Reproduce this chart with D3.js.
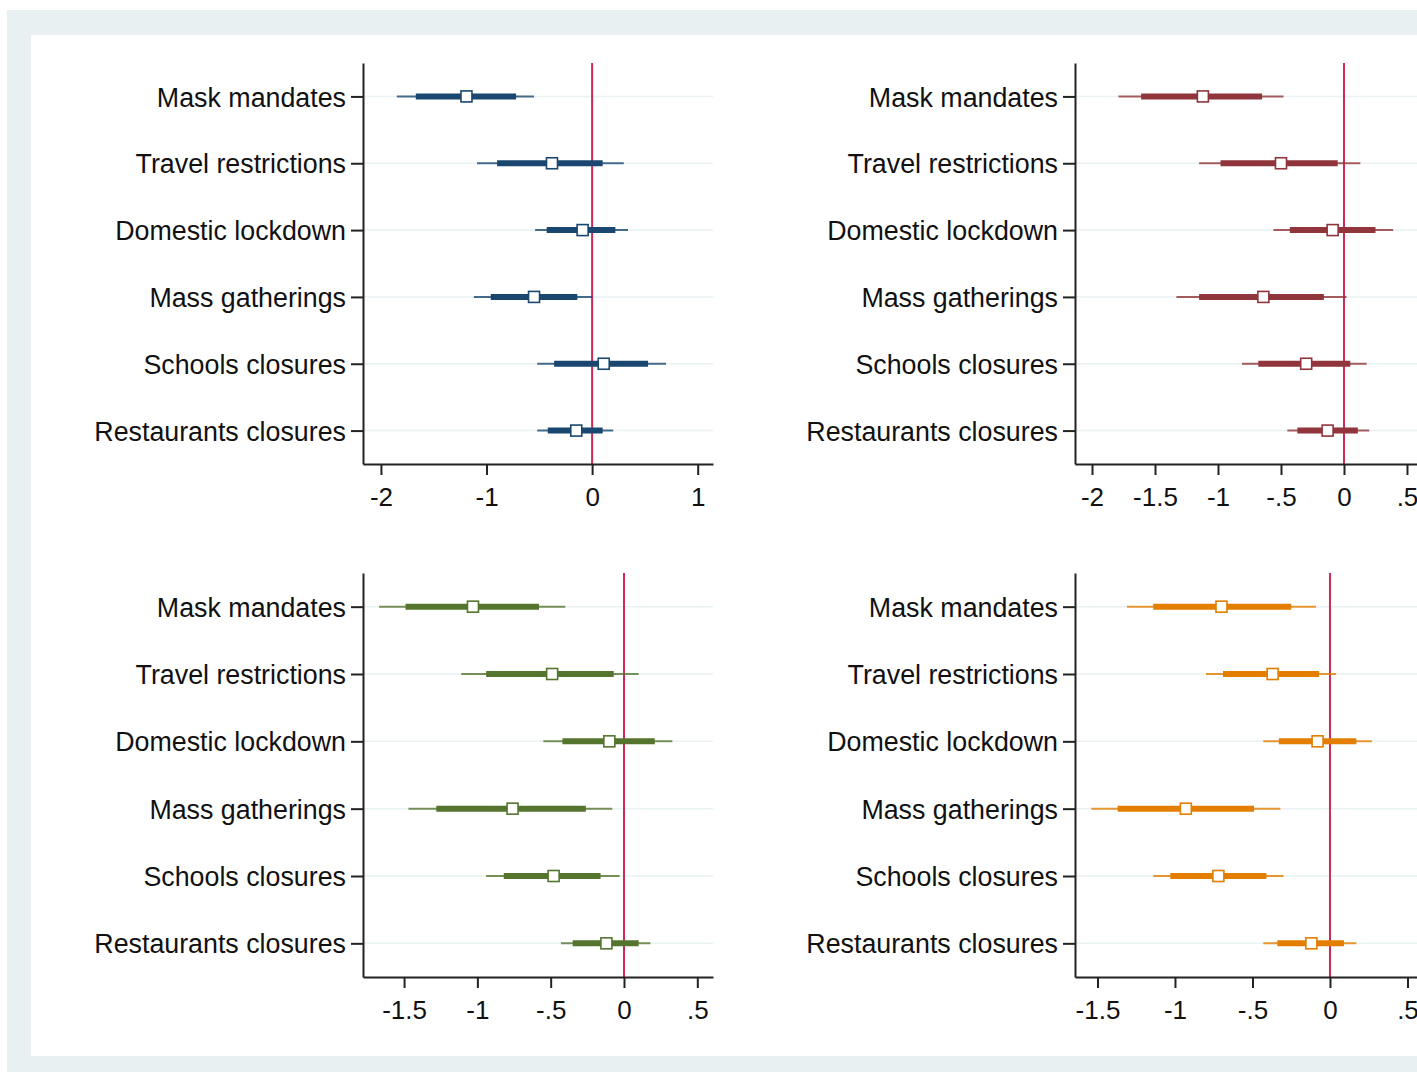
<!DOCTYPE html>
<html>
<head>
<meta charset="utf-8">
<script src="https://cdn.jsdelivr.net/npm/d3@7"></script>
<style>
  html, body { margin: 0; padding: 0; background: #fff; }
  svg text { font-family: "Liberation Sans", Arial, sans-serif; fill: #111; }
</style>
</head>
<body>
<svg id="chart" width="1417" height="1072"></svg>
<script>
// policy categories (top to bottom)
var categories = ["Mask mandates", "Travel restrictions", "Domestic lockdown",
  "Mass gatherings", "Schools closures", "Restaurants closures"];

// panel A (top left, navy)
var estA      = [-1.19, -0.38, -0.09, -0.55, 0.11, -0.15];
var thinLoA   = [-1.85, -1.09, -0.54, -1.12, -0.52, -0.52];
var thinHiA   = [-0.55, 0.30, 0.34, 0.00, 0.70, 0.20];
var thickLoA  = [-1.67, -0.90, -0.43, -0.96, -0.36, -0.42];
var thickHiA  = [-0.72, 0.10, 0.22, -0.14, 0.53, 0.10];
var ticksA    = [-2, -1, 0, 1];

// panel B (top right, maroon)
var estB      = [-1.12, -0.50, -0.09, -0.64, -0.30, -0.13];
var thinLoB   = [-1.79, -1.15, -0.56, -1.33, -0.81, -0.45];
var thinHiB   = [-0.48, 0.13, 0.39, 0.02, 0.18, 0.20];
var thickLoB  = [-1.61, -0.98, -0.43, -1.15, -0.68, -0.37];
var thickHiB  = [-0.65, -0.05, 0.25, -0.16, 0.05, 0.11];
var ticksB    = [-2, -1.5, -1, -0.5, 0, 0.5];

// panel C (bottom left, green)
var estC      = [-1.03, -0.49, -0.10, -0.76, -0.48, -0.12];
var thinLoC   = [-1.67, -1.11, -0.55, -1.47, -0.94, -0.43];
var thinHiC   = [-0.40, 0.10, 0.33, -0.08, -0.03, 0.18];
var thickLoC  = [-1.49, -0.94, -0.42, -1.28, -0.82, -0.35];
var thickHiC  = [-0.58, -0.07, 0.21, -0.26, -0.16, 0.10];
var ticksC    = [-1.5, -1, -0.5, 0, 0.5];

// panel D (bottom right, orange)
var estD      = [-0.70, -0.37, -0.08, -0.93, -0.72, -0.12];
var thinLoD   = [-1.31, -0.80, -0.43, -1.54, -1.14, -0.43];
var thinHiD   = [-0.09, 0.04, 0.27, -0.32, -0.30, 0.17];
var thickLoD  = [-1.14, -0.69, -0.33, -1.37, -1.03, -0.34];
var thickHiD  = [-0.25, -0.07, 0.17, -0.49, -0.41, 0.09];
var ticksD    = [-1.5, -1, -0.5, 0, 0.5];

var svg = d3.select("#chart");

// outer background + white plot region
svg.append("rect").attr("x", 7).attr("y", 10).attr("width", 1410).attr("height", 1062).attr("fill", "#e8f0f2");
svg.append("rect").attr("x", 31).attr("y", 35).attr("width", 1386).attr("height", 1021).attr("fill", "#fff");

var fmt = function (d) {
  if (d === 0) return "0";
  return String(d).replace("0.", ".");
};

var panels = [
  { est: estA, tlo: thinLoA, thi: thinHiA, klo: thickLoA, khi: thickHiA, ticks: ticksA,
    dom: [-2.17, 1.145], x0: 363, x1: 713, y0: 63, y1: 464, color: "#1a476f" },
  { est: estB, tlo: thinLoB, thi: thinHiB, klo: thickLoB, khi: thickHiB, ticks: ticksB,
    dom: [-2.135, 0.643], x0: 1075, x1: 1425, y0: 63, y1: 464, color: "#90353b" },
  { est: estC, tlo: thinLoC, thi: thinHiC, klo: thickLoC, khi: thickHiC, ticks: ticksC,
    dom: [-1.78, 0.607], x0: 363, x1: 713, y0: 573, y1: 977, color: "#55752f" },
  { est: estD, tlo: thinLoD, thi: thinHiD, klo: thickLoD, khi: thickHiD, ticks: ticksD,
    dom: [-1.645, 0.613], x0: 1075, x1: 1425, y0: 573, y1: 977, color: "#e37e00" }
];

panels.forEach(function (p) {
  var x = d3.scaleLinear().domain(p.dom).range([p.x0, p.x1]);
  var y = d3.scalePoint().domain(categories).range([p.y0, p.y1]).padding(0.5);
  var g = svg.append("g");

  // light horizontal grid
  g.selectAll(".grid")
    .data(categories)
    .enter().append("line")
    .attr("x1", p.x0).attr("x2", p.x1)
    .attr("y1", function (d) { return y(d); })
    .attr("y2", function (d) { return y(d); })
    .attr("stroke", "#eaf2f3")
    .attr("stroke-width", 1.5);

  // reference line at zero
  g.append("line")
    .attr("x1", x(0)).attr("x2", x(0))
    .attr("y1", p.y0).attr("y2", p.y1)
    .attr("stroke", "#cf2a55")
    .attr("stroke-width", 2);

  var rows = categories.map(function (c, i) {
    return { cat: c, est: p.est[i], tlo: p.tlo[i], thi: p.thi[i], klo: p.klo[i], khi: p.khi[i] };
  });

  // thin interval
  g.selectAll(".thin")
    .data(rows)
    .enter().append("line")
    .attr("x1", function (d) { return x(d.tlo); })
    .attr("x2", function (d) { return x(d.thi); })
    .attr("y1", function (d) { return y(d.cat); })
    .attr("y2", function (d) { return y(d.cat); })
    .attr("stroke", p.color)
    .attr("stroke-opacity", 0.8)
    .attr("stroke-width", 2);

  // thick interval
  g.selectAll(".thick")
    .data(rows)
    .enter().append("line")
    .attr("x1", function (d) { return x(d.klo); })
    .attr("x2", function (d) { return x(d.khi); })
    .attr("y1", function (d) { return y(d.cat); })
    .attr("y2", function (d) { return y(d.cat); })
    .attr("stroke", p.color)
    .attr("stroke-width", 6);

  // point estimate
  g.selectAll(".pt")
    .data(rows)
    .enter().append("rect")
    .attr("x", function (d) { return x(d.est) - 5.5; })
    .attr("y", function (d) { return y(d.cat) - 5.5; })
    .attr("width", 11).attr("height", 11)
    .attr("fill", "#fff")
    .attr("stroke", p.color)
    .attr("stroke-width", 1.6);

  // axes
  var ax = g.append("g")
    .attr("transform", "translate(0," + p.y1 + ")")
    .call(d3.axisBottom(x).tickValues(p.ticks).tickFormat(fmt).tickSize(11).tickSizeOuter(0).tickPadding(13));
  var ay = g.append("g")
    .attr("transform", "translate(" + p.x0 + ",0)")
    .call(d3.axisLeft(y).tickSize(12).tickSizeOuter(0).tickPadding(5));

  [ax, ay].forEach(function (a) {
    a.select(".domain").attr("stroke", "#222").attr("stroke-width", 2);
    a.selectAll(".tick line").attr("stroke", "#222").attr("stroke-width", 2);
    a.selectAll(".tick text").attr("font-size", 26).attr("fill", "#111")
      .style("font-family", "'Liberation Sans', Arial, sans-serif");
  });
  ay.selectAll(".tick text").attr("font-size", 26.8).attr("dy", "0.36em");
});
</script>
</body>
</html>
